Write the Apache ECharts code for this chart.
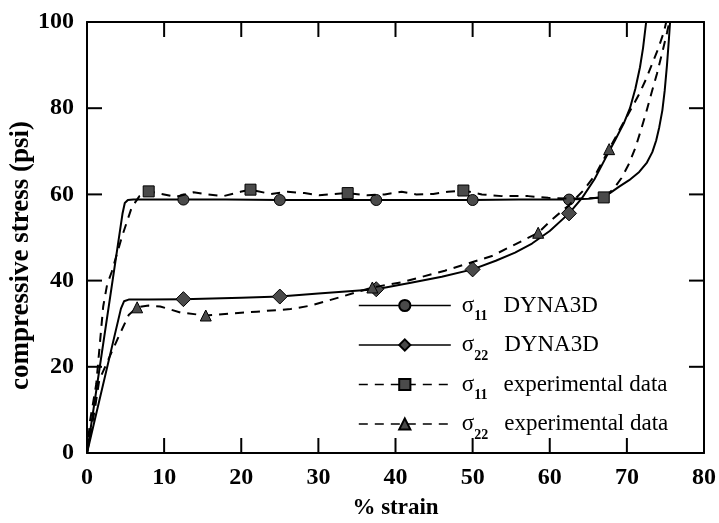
<!DOCTYPE html>
<html>
<head>
<meta charset="utf-8">
<script src="https://cdn.jsdelivr.net/npm/echarts@6/dist/echarts.min.js"></script>
<style>
  html, body { margin: 0; padding: 0; background: #fff; }
  #chart { width: 719px; height: 523px; }
</style>
</head>
<body>
<div id="chart"></div>
<script>
// Compressive stress vs. strain: model results (DYNA3D) and measurements.
// Each curve is a list of [% strain, stress in psi] points.
const s11Dyna = [
  [0, 0], [4.6, 55.5], [4.9, 58], [5.3, 58.7], [6, 58.8], [8, 58.8], [12.5, 58.8],
  [18, 58.8], [25, 58.7], [31, 58.7], [37.5, 58.7], [44, 58.7], [50, 58.7],
  [56, 58.8], [62.5, 58.8], [65, 59], [66.5, 59.3], [67.8, 60.3], [69, 61.8],
  [70.3, 63.3], [71.6, 65.2], [72.6, 67.4], [73.3, 69.8], [73.8, 72.5],
  [74.2, 75.6], [74.6, 79.5], [74.9, 84], [75.2, 90], [75.45, 96], [75.6, 100]
];
const s11DynaMarks = [12.5, 25, 37.5, 50, 62.5];

const s22Dyna = [
  [0, 0], [4.4, 33.5], [4.8, 35.2], [5.4, 35.6], [8, 35.6], [12.5, 35.7], [20, 36],
  [25, 36.3], [30, 37], [37.5, 38], [42, 39.5], [46, 40.9], [50, 42.6], [53, 44.6],
  [55.5, 46.5], [57.7, 48.6], [60, 51.5], [62.5, 55.6], [64.2, 59.2], [65.8, 63.5],
  [67.2, 68.3], [68.5, 72.7], [69.6, 76.5], [70.4, 80], [71.1, 84.5], [71.7, 89.5],
  [72.1, 94], [72.5, 100]
];
const s22DynaMarks = [12.5, 25, 37.5, 50, 62.5];

const s11Exp = [
  [0, 0], [0.4, 7.5], [1.2, 16], [1.7, 26], [2.1, 34], [2.6, 39], [3.2, 42],
  [4.5, 50], [5.8, 57], [6.8, 59.6], [8, 60.7], [10, 60], [11.5, 59.4], [13.8, 60.5],
  [15.6, 60], [17.7, 59.6], [19.9, 60.6], [21.2, 61.1], [23.8, 60.1], [26, 60.6],
  [28.2, 60.3], [30.1, 59.8], [32.1, 60.1], [33.8, 60.3], [36.4, 59.8], [38.6, 60],
  [40.8, 60.6], [42.7, 60], [44.9, 60.1], [46.8, 60.6], [48.8, 60.9], [51.2, 60],
  [53.8, 59.6], [57.2, 59.6], [59.8, 59.2], [62.5, 59], [65, 59.1], [67, 59.3],
  [68.3, 61.3], [69.3, 63.8], [70.3, 67.2], [71.1, 70.8], [71.8, 74.8],
  [72.5, 79], [73.2, 83.6], [73.9, 88], [74.6, 93], [75.2, 97.5], [75.5, 100]
];
const s11ExpMarks = [8, 21.2, 33.8, 48.8, 67];

const s22Exp = [
  [0, 0], [1, 10], [1.6, 17], [2.6, 21], [4.1, 27], [5.4, 32], [6.5, 33.8],
  [8, 34.2], [9.5, 34], [12.1, 32.6], [15.4, 31.9], [19, 32.4], [22, 32.8],
  [26.4, 33.4], [29, 34.2], [32.9, 36.2], [37, 38.4], [40.8, 39.6], [46.4, 42.3],
  [52.5, 45.7], [56.4, 49.2], [58.5, 51.1], [60.3, 54.2], [62.5, 57.5],
  [64.3, 60.8], [65.9, 64.5], [67.7, 70.5], [69.3, 75.8], [70.6, 80],
  [71.6, 83.3], [72.5, 86.8], [73.3, 90.4], [74.1, 94], [74.8, 97.7], [75.1, 100]
];
const s22ExpMarks = [6.5, 15.4, 37, 58.5, 67.7];

const xTicks = { min: 0, max: 80, step: 10 };
const yTicks = { min: 0, max: 100, step: 20 };

const serif = '"Liberation Serif", "DejaVu Serif", serif';
const TICK_LEN = 15;

// Points listed in the marks array carry a symbol; the rest are plain line vertices.
function withMarks(points, marks) {
  return points.map(function (p) {
    const marked = marks.indexOf(p[0]) !== -1;
    return marked ? { value: p } : { value: p, symbol: 'none' };
  });
}

function curve(name, points, marks, symbol, size, dashed) {
  return {
    name: name,
    type: 'line',
    data: withMarks(points, marks),
    symbol: symbol,
    symbolSize: size,
    smooth: false,
    clip: true,
    lineStyle: { color: '#000', width: 2, type: dashed ? [9, 7] : 'solid', join: 'round' },
    itemStyle: { color: '#4a4a4a', borderColor: '#000', borderWidth: 1 },
    emphasis: { disabled: true },
    z: dashed ? 3 : 2
  };
}

// Interior tick values of an axis range (the end values sit on the frame corners).
function innerTicks(t) {
  const out = [];
  for (let v = t.min + t.step; v < t.max; v += t.step) out.push(v);
  return out;
}

// Inward tick marks on all four sides of the frame, placed through the axis scales.
function tickSeries(dir) {
  const values = innerTicks(dir === 'x' ? xTicks : yTicks);
  return {
    type: 'custom',
    silent: true,
    clip: false,
    z: 4,
    data: values.map(function (v) { return dir === 'x' ? [v, yTicks.min] : [xTicks.min, v]; }),
    renderItem: function (params, api) {
      const style = { stroke: '#000', lineWidth: 2 };
      let a, b, shapes;
      if (dir === 'x') {
        const v = api.value(0);
        a = api.coord([v, yTicks.min]);
        b = api.coord([v, yTicks.max]);
        shapes = [
          { x1: a[0], y1: a[1], x2: a[0], y2: a[1] - TICK_LEN },
          { x1: b[0], y1: b[1], x2: b[0], y2: b[1] + TICK_LEN }
        ];
      } else {
        const v = api.value(1);
        a = api.coord([xTicks.min, v]);
        b = api.coord([xTicks.max, v]);
        shapes = [
          { x1: a[0], y1: a[1], x2: a[0] + TICK_LEN, y2: a[1] },
          { x1: b[0], y1: b[1], x2: b[0] - TICK_LEN, y2: b[1] }
        ];
      }
      return {
        type: 'group',
        children: shapes.map(function (s) { return { type: 'line', shape: s, style: style }; })
      };
    }
  };
}

function axisLine() {
  return { show: true, onZero: false, lineStyle: { color: '#000', width: 2 } };
}
function tickLabel() {
  return { show: true, color: '#000', fontFamily: serif, fontSize: 24, fontWeight: 'bold', margin: 13 };
}

const chart = echarts.init(document.getElementById('chart'), null, { renderer: 'canvas' });

chart.setOption({
  backgroundColor: '#fff',
  animation: false,
  grid: { left: 87, right: 15, top: 22, bottom: 70, outerBoundsMode: 'none', containLabel: false },
  legend: {
    orient: 'vertical',
    left: 358,
    top: 294,
    padding: 0,
    itemWidth: 92,
    itemHeight: 14,
    itemGap: 10,
    selectedMode: false,
    lineStyle: { width: 1.6 },
    textStyle: {
      color: '#000',
      fontFamily: serif,
      fontSize: 23,
      rich: {
        g: { fontFamily: serif, fontSize: 23, color: '#000', padding: [0, 0, 0, 6] },
        sub: { fontFamily: serif, fontSize: 14, color: '#000', fontWeight: 'bold', padding: [22, 0, 0, 0] },
        t: { fontFamily: serif, fontSize: 23, color: '#000', padding: [0, 0, 0, 16] }
      }
    },
    formatter: function (name) {
      const m = name.match(/^σ(\d+) (.*)$/);
      return '{g|σ}{sub|' + m[1] + '}{t|' + m[2] + '}';
    },
    data: ['σ11 DYNA3D', 'σ22 DYNA3D', 'σ11 experimental data', 'σ22 experimental data']
  },
  xAxis: [
    {
      type: 'value', position: 'bottom',
      min: xTicks.min, max: xTicks.max, interval: xTicks.step,
      name: '% strain', nameLocation: 'middle', nameGap: 44, nameMoveOverlap: false,
      nameTextStyle: { color: '#000', fontFamily: serif, fontSize: 23, fontWeight: 'bold' },
      axisLine: axisLine(), axisTick: { show: false }, axisLabel: tickLabel(),
      splitLine: { show: false }
    },
    {
      type: 'value', position: 'top',
      min: xTicks.min, max: xTicks.max, interval: xTicks.step,
      axisLine: axisLine(), axisTick: { show: false }, axisLabel: { show: false },
      splitLine: { show: false }
    }
  ],
  yAxis: [
    {
      type: 'value', position: 'left',
      min: yTicks.min, max: yTicks.max, interval: yTicks.step,
      name: 'compressive stress (psi)', nameLocation: 'middle', nameGap: 52, nameRotate: 90,
      nameMoveOverlap: false,
      nameTextStyle: { color: '#000', fontFamily: serif, fontSize: 27, fontWeight: 'bold', padding: [0, 36, 0, 0] },
      axisLine: axisLine(), axisTick: { show: false }, axisLabel: tickLabel(),
      splitLine: { show: false }
    },
    {
      type: 'value', position: 'right',
      min: yTicks.min, max: yTicks.max, interval: yTicks.step,
      axisLine: axisLine(), axisTick: { show: false }, axisLabel: { show: false },
      splitLine: { show: false }
    }
  ],
  series: [
    curve('σ11 DYNA3D', s11Dyna, s11DynaMarks, 'circle', 11, false),
    curve('σ22 DYNA3D', s22Dyna, s22DynaMarks, 'diamond', 15, false),
    curve('σ11 experimental data', s11Exp, s11ExpMarks, 'rect', 11, true),
    curve('σ22 experimental data', s22Exp, s22ExpMarks, 'triangle', 11, true),
    tickSeries('x'),
    tickSeries('y')
  ]
});
</script>
</body>
</html>
